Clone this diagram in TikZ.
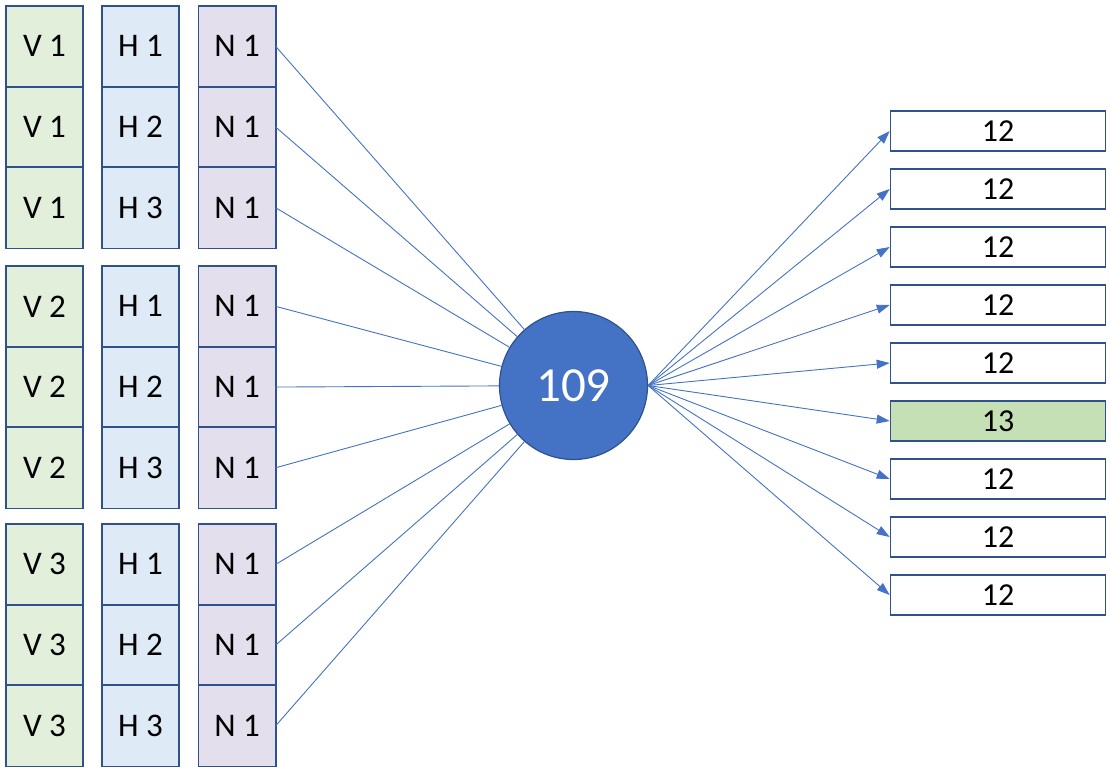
\documentclass[tikz,border=0pt]{standalone}
\usepackage{fontspec}
\setmainfont{Carlito}
\usetikzlibrary{arrows.meta}
\definecolor{bord}{HTML}{2F528F}
\definecolor{lineblue}{HTML}{4472C4}
\definecolor{vfill}{HTML}{E2EFDA}
\definecolor{hfill}{HTML}{DEEBF7}
\definecolor{nfill}{HTML}{E4DFEC}
\definecolor{gfill}{HTML}{C5E0B4}
\tikzset{
  cell/.style={minimum width=77pt, minimum height=80.7pt, inner sep=0pt, font=\fontsize{33}{33}\selectfont},
  vcell/.style={cell, fill=vfill},
  hcell/.style={cell, fill=hfill},
  ncell/.style={cell, fill=nfill},
  cellborder/.style={draw=bord, line width=1.6pt},
  rbox/.style={draw=bord, line width=1.6pt, fill=white, minimum width=215pt, minimum height=40pt, inner sep=0pt, font=\fontsize{32}{32}\selectfont},
  conn/.style={draw=lineblue, line width=0.9pt},
  arr/.style={conn, -{Triangle[length=13pt,width=9pt]}}
}
\begin{document}
\begin{tikzpicture}[x=1pt,y=-1pt]
\useasboundingbox (0,0) rectangle (1110,774);
% left grid
\foreach \g/\s in {1/6, 2/266, 3/524} {
  \foreach \r in {1,2,3} {
    \pgfmathsetmacro{\yy}{\s + 40.35 + 80.7*(\r-1)}
    \node[vcell] (v\g\r) at (44.5,\yy) {V \g};
    \node[hcell] (h\g\r) at (140.5,\yy) {H \r};
    \node[ncell] (n\g\r) at (237,\yy) {N 1};
  }
}
\foreach \g in {1,2,3} {
  \foreach \r in {1,2,3} {
    \foreach \c in {v,h,n} {
      \draw[cellborder] (\c\g\r.north west) rectangle (\c\g\r.south east);
    }
  }
}
% circle
\node[circle, draw=bord, line width=1.2pt, fill=lineblue, minimum size=148pt, inner sep=0pt, text=white, font=\fontsize{49}{49}\selectfont] (c) at (573.5,385.5) {109};
% right boxes
\foreach \i/\t in {1/12,2/12,3/12,4/12,5/12,6/13,7/12,8/12,9/12} {
  \pgfmathsetmacro{\yy}{131 + 58*(\i-1)}
  \ifnum\i=6
    \node[rbox, fill=gfill] (r\i) at (998,\yy) {\t};
  \else
    \node[rbox] (r\i) at (998,\yy) {\t};
  \fi
}
% connectors
\foreach \g in {1,2,3} {
  \foreach \r in {1,2,3} {
    \draw[conn] (n\g\r.east) -- (c);
  }
}
\foreach \i in {1,...,9} {
  \draw[arr] (c.east) -- (r\i.west);
}
\end{tikzpicture}
\end{document}
